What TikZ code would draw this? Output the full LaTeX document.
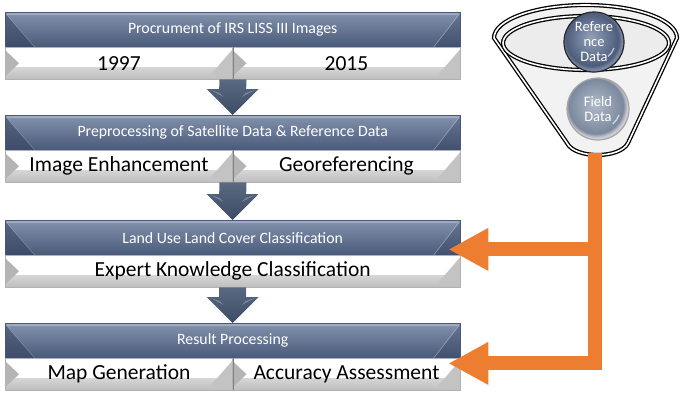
\documentclass[tikz,border=0pt]{standalone}
\usepackage{fontspec}
\setmainfont{Carlito}
\usetikzlibrary{calc,arrows.meta,backgrounds}

\definecolor{hdrtop}{HTML}{8393AD}
\definecolor{hdrmid}{HTML}{5B6C8A}
\definecolor{hdrbot}{HTML}{485878}
\definecolor{hdrdk}{HTML}{33425E}
\definecolor{hdrhi}{HTML}{A7B3C6}
\definecolor{cellbot}{HTML}{BDBDBD}
\definecolor{celledge}{HTML}{B4B4B4}
\definecolor{blocktop}{HTML}{5A6982}
\definecolor{blockbot}{HTML}{3D4B64}
\definecolor{accent}{HTML}{ED7D31}
\definecolor{refin}{HTML}{93A0B7}
\definecolor{refmid}{HTML}{6C7C98}
\definecolor{refout}{HTML}{4C5C7A}
\definecolor{refrim}{HTML}{7A89A3}
\definecolor{fldin}{HTML}{B1BAC8}
\definecolor{fldmid}{HTML}{939FB2}
\definecolor{fldout}{HTML}{7C889D}
\definecolor{fldrim}{HTML}{C9CDD4}

% glossy fills for the two data balls
\pgfdeclareradialshading{refshade}{\pgfpoint{-3bp}{4bp}}{color(0bp)=(refin); color(12bp)=(refmid); color(22bp)=(refout); color(25bp)=(refrim); color(50bp)=(refrim)}
\pgfdeclareradialshading{fldshade}{\pgfpoint{-3bp}{4bp}}{color(0bp)=(fldin); color(12bp)=(fldmid); color(22bp)=(fldout); color(25bp)=(fldrim); color(50bp)=(fldrim)}

% bevelled dark header bar behind a node
\newcommand{\hdrface}[1]{%
  \shade[top color=hdrtop, middle color=hdrmid, bottom color=hdrbot] (#1.north west) rectangle (#1.south east);
  \fill[hdrhi, opacity=.8] (#1.north west) -- (#1.north east) -- ($(#1.north east)+(-3,3)$) -- ($(#1.north west)+(3,3)$) -- cycle;
  \fill[hdrdk, opacity=.55] ($(#1.north west)+(0,1)$) -- ($(#1.south west)+(30,0)$) -- (#1.south west) -- cycle;
  \draw[white, opacity=.25, line width=.6pt] ($(#1.north west)+(1,2)$) -- ($(#1.south west)+(30,0)$);
  \fill[hdrdk, opacity=.35] ($(#1.north east)+(0,1)$) -- (#1.south east) -- ($(#1.south east)+(-26,0)$) -- cycle;
  \draw[white, opacity=.35, line width=.6pt] ($(#1.north east)+(-1,2)$) -- ($(#1.south east)+(-27,0)$);
  \draw[hdrbot, line width=.4pt] (#1.north west) rectangle (#1.south east);
}
% bevelled light cell behind a node
\newcommand{\cellface}[1]{%
  \shade[top color=white, middle color=white, bottom color=cellbot] (#1.north west) rectangle (#1.south east);
  \fill[white] ($(#1.north west)+(0,2)$) rectangle ($(#1.east)+(0,4)$);
  \fill[celledge] ($(#1.north west)+(0,3)$) -- ($(#1.west)+(14,0)$) -- ($(#1.south west)+(0,-3)$) -- cycle;
  \fill[celledge!80] ($(#1.north east)+(0,2)$) -- (#1.south east) -- ($(#1.south east)+(-22,-5)$) -- cycle;
  \draw[gray!60, line width=.4pt] (#1.north west) rectangle (#1.south east);
}
% block arrow pointing down from #1 to #2
\newcommand{\blockdown}[2]{%
  \path (#1) coordinate (ba-top) (#2) coordinate (ba-tip);
  \shade[top color=blocktop, bottom color=blockbot]
    ($(ba-top)+(-13.5,0)$) -- ($(ba-top)+(13.5,0)$) -- ($(ba-tip)+(13.5,-26)$) --
    ($(ba-tip)+(26,-26)$) -- (ba-tip) -- ($(ba-tip)+(-26,-26)$) -- ($(ba-tip)+(-13.5,-26)$) -- cycle;
  \fill[white, opacity=.25] ($(ba-tip)+(-22,-25)$) -- ($(ba-tip)+(-9,-18)$) -- ($(ba-tip)+(-13,-22)$) -- cycle;
  \fill[white, opacity=.25] ($(ba-tip)+(22,-25)$) -- ($(ba-tip)+(9,-18)$) -- ($(ba-tip)+(13,-22)$) -- cycle;
}

\begin{document}
\begin{tikzpicture}[x=1pt, y=-1pt,
  hdr/.style={minimum width=455pt, minimum height=35pt, anchor=north west, inner sep=0pt,
    text=white, font=\fontsize{15.8}{18}\selectfont},
  cellwide/.style={minimum width=455pt, minimum height=32pt, anchor=north west, inner sep=0pt,
    font=\fontsize{21.5}{24}\selectfont},
  cellhalf/.style={cellwide, minimum width=227.5pt},
  ball/.style={circle, inner sep=0pt, shade, text=white, align=center,
    font=\fontsize{14.5}{15}\selectfont},
  funnelline/.style={draw=black, line width=1.3pt, double=white, double distance=1.6pt},
  feed/.style={draw=accent, line width=14pt, -{Triangle[length=40pt,width=40pt]}}
]
\useasboundingbox (0,0) rectangle (680,394);

% four stages
\node[hdr] (h1) at (5,12) {Procrument of IRS LISS III Images};
\node[cellhalf] (c1a) at (5,47) {1997};
\node[cellhalf] (c1b) at (232.5,47) {2015};

\node[hdr] (h2) at (5,115) {Preprocessing of Satellite Data \& Reference Data};
\node[cellhalf] (c2a) at (5,150) {Image Enhancement};
\node[cellhalf] (c2b) at (232.5,150) {Georeferencing};

\node[hdr] (h3) at (5,220) {Land Use Land Cover Classification};
\node[cellwide] (c3) at (5,255) {Expert Knowledge Classification};

\node[hdr] (h4) at (5,323) {Result Processing};
\node[cellhalf] (c4a) at (5,358) {Map Generation};
\node[cellhalf] (c4b) at (232.5,358) {Accuracy Assessment};

\begin{scope}[on background layer]
  \hdrface{h1} \cellface{c1a} \cellface{c1b}
  \hdrface{h2} \cellface{c2a} \cellface{c2b}
  \hdrface{h3} \cellface{c3}
  \hdrface{h4} \cellface{c4a} \cellface{c4b}
  \draw[gray, line width=.8pt] (c1a.north east) -- (c1a.south east);
  \draw[gray, line width=.8pt] (c2a.north east) -- (c2a.south east);
  \draw[gray, line width=.8pt] (c4a.north east) -- (c4a.south east);
\end{scope}

% flow between stages
\blockdown{c1a.south east}{h2.north}
\blockdown{c2a.south east}{h3.north}
\blockdown{c3.south}{h4.north}

% funnel of input data
\filldraw[funnelline, fill=gray!10]
  (494,38) arc[start angle=180, end angle=360, x radius=91.5, y radius=33]
  -- (628,143) .. controls (620,159) and (575,159) .. (567,143) -- cycle;
\filldraw[funnelline, fill=gray!15] (586,43) ellipse[x radius=83, y radius=27];
\coordinate (fout) at (595,153);

\node[ball, minimum size=60pt, shading=refshade, draw=black!85, line width=1.2pt] (refd) at (594,42) {Refere\\nce\\Data};
\node[ball, minimum size=62pt, shading=fldshade, draw=gray!70, line width=1.2pt] (fld) at (598,109) {Field\\Data};
\draw[white, opacity=.6, line width=1.4pt] ($(refd.center)+(20,6)$) arc[start angle=20, end angle=50, radius=20];
\draw[white, opacity=.6, line width=1.4pt] ($(fld.center)+(21,6)$) arc[start angle=20, end angle=50, radius=21];

% data fed into classification and assessment
\coordinate (tipA) at ($(h3.south east)+(-12,-6)$);
\coordinate (tipB) at ($(h4.south east)+(-12,5)$);
\draw[feed] (fout) |- (tipB);
\draw[feed] (fout |- tipA) -- (tipA);
\end{tikzpicture}
\end{document}
